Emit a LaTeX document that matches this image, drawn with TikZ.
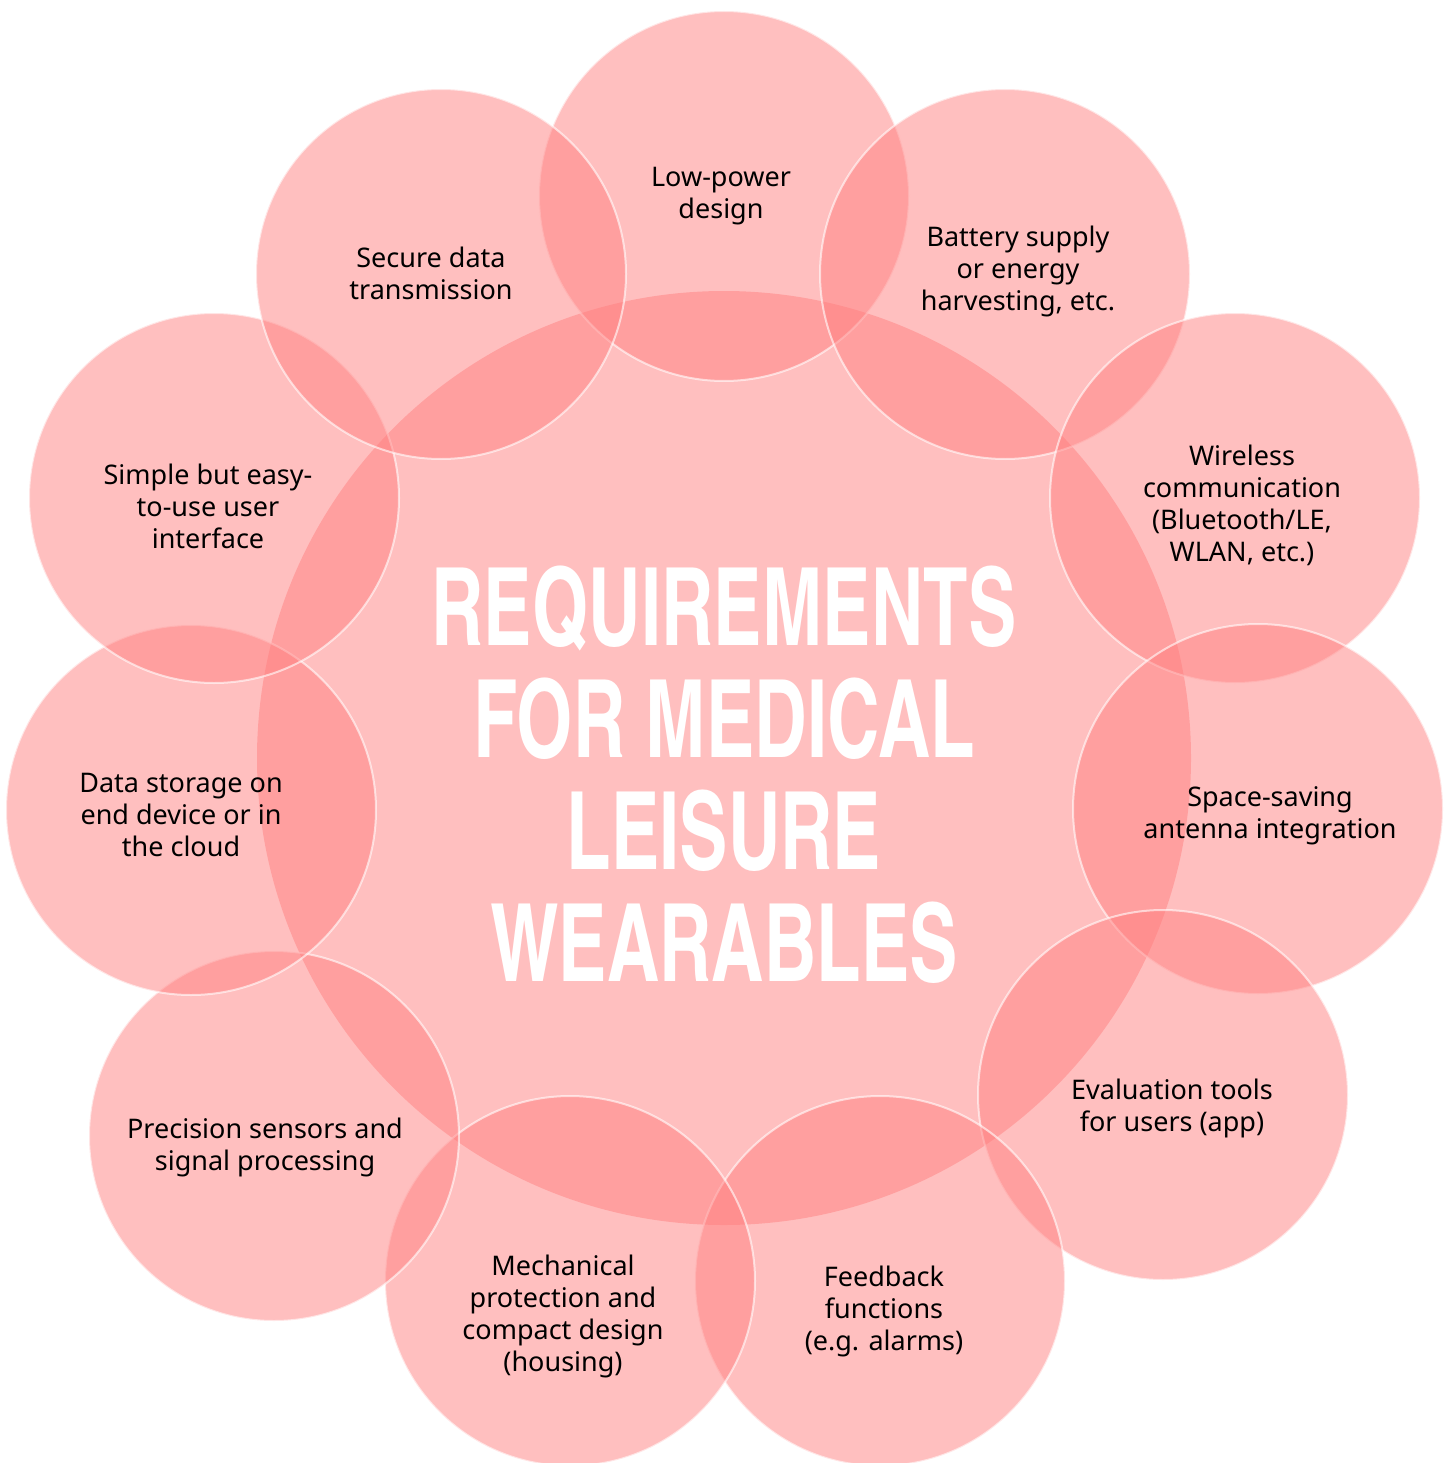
\documentclass[tikz,border=0pt]{standalone}
\usepackage{fontspec}
\setmainfont{Noto Sans}
\newfontfamily\titlefont{TeX Gyre Heros Cn}[FakeStretch=0.82]
\usepackage{tikz}
\usetikzlibrary{positioning}
\definecolor{bubblered}{RGB}{255,127,127}
\tikzstyle{core} = [circle, fill=bubblered, fill opacity=0.5, minimum size=934pt, inner sep=0pt]
\tikzstyle{bubble} = [circle, fill=bubblered, fill opacity=0.5, draw=white, draw opacity=0.6, line width=2pt, minimum size=370pt, inner sep=0pt]
\tikzstyle{caption} = [align=center, font=\fontsize{27}{32}\selectfont, text=black, inner sep=0pt]
\tikzstyle{headline} = [align=center, font=\titlefont\bfseries\fontsize{108}{112}\selectfont, text=white, inner sep=0pt]

\begin{document}
\begin{tikzpicture}[x=1pt,y=-1pt]
    \useasboundingbox (0,0) rectangle (1452,1463);
    % Place circles
    \node[core] (core) at (724,758) {};
    \node[bubble] (lowpower) at (724,196) {};
    \node[bubble] (battery) at (1005,274) {};
    \node[bubble] (wireless) at (1235,498) {};
    \node[bubble] (antenna) at (1258,809) {};
    \node[bubble] (evaluation) at (1163,1095) {};
    \node[bubble] (feedback) at (880,1281) {};
    \node[bubble] (housing) at (570,1281) {};
    \node[bubble] (sensors) at (274,1136) {};
    \node[bubble] (storage) at (191,810) {};
    \node[bubble] (interface) at (214,498) {};
    \node[bubble] (secure) at (441,274) {};

    % Place texts
    \node[headline] (title) at (724,775) {REQUIREMENTS\\FOR MEDICAL\\LEISURE\\WEARABLES};
    \node[caption] (lowpowertext) at (721,196) {Low-power\\design};
    \node[caption] (batterytext) at (1018,271) {Battery supply\\or energy\\harvesting, etc.};
    \node[caption] (wirelesstext) at (1242,505) {Wireless\\communication\\(Bluetooth/LE,\\WLAN, etc.)};
    \node[caption] (antennatext) at (1270,816) {Space-saving\\antenna integration};
    \node[caption] (evaluationtext) at (1172,1108) {Evaluation tools\\for users (app)};
    \node[caption] (feedbacktext) at (884,1311) {Feedback\\functions\\(e.g. alarms)};
    \node[caption] (housingtext) at (563,1316) {Mechanical\\protection and\\compact design\\(housing)};
    \node[caption] (sensorstext) at (265,1147) {Precision sensors and\\signal processing};
    \node[caption] (storagetext) at (181,815) {Data storage on\\end device or in\\the cloud};
    \node[caption] (interfacetext) at (208,506) {Simple but easy-\\to-use user\\interface};
    \node[caption] (securetext) at (431,273) {Secure data\\transmission};
\end{tikzpicture}
\end{document}
